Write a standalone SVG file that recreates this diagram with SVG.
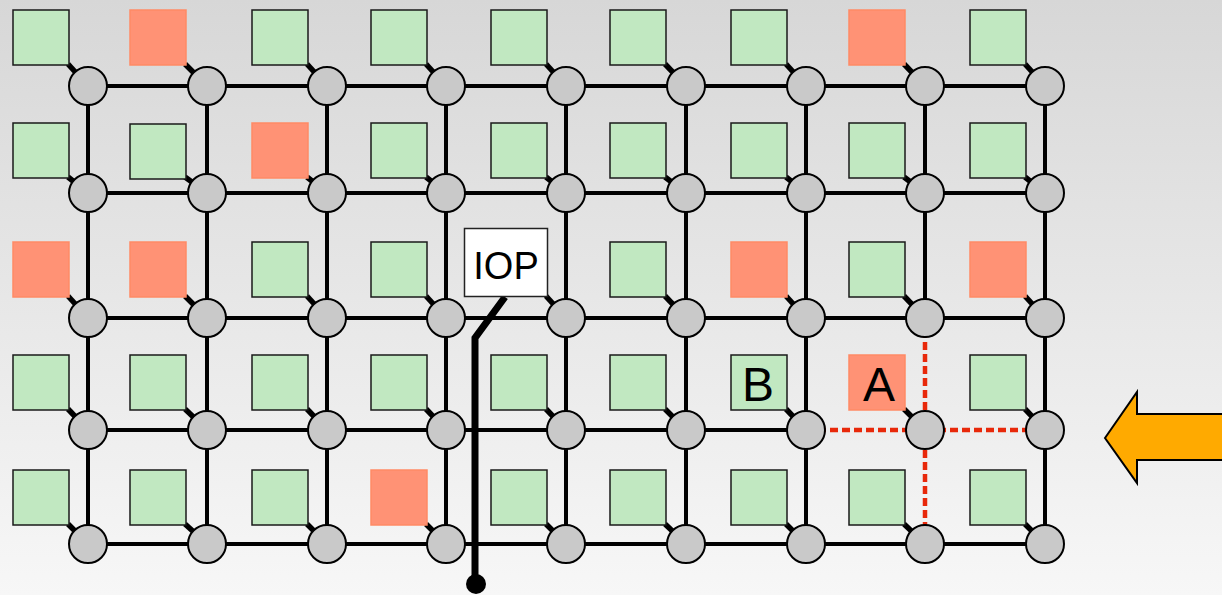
<svg xmlns="http://www.w3.org/2000/svg" width="1222" height="595" viewBox="0 0 1222 595">
<defs>
<linearGradient id="bg" x1="0" y1="0" x2="0" y2="1">
<stop offset="0" stop-color="#d7d7d7"/>
<stop offset="1" stop-color="#f7f7f7"/>
</linearGradient>
</defs>
<style>
.ln{stroke:#000;stroke-width:4;fill:none}
.rd{stroke:#e8280a;stroke-width:4.5;stroke-dasharray:8,4;fill:none}
.g{fill:#c1e8c1;stroke:#1a1a1a;stroke-width:1.5}
.r{fill:#ff9275;stroke:#ff8a66;stroke-width:1.5}
.c{fill:#c9c9c9;stroke:#000;stroke-width:2}
.s{stroke:#000;stroke-width:5.5}
.t{font-family:"Liberation Sans",Arial,sans-serif;fill:#000}
</style>
<rect width="1222" height="595" fill="url(#bg)"/>
<g id="connectors">
<path class="ln" d="M88,86H1045M88,193H1045M88,318H1045M88,544H1045M88,430H806"/>
<path class="ln" d="M88,86V544M207,86V544M327,86V544M446,86V544M566,86V544M686,86V544M806,86V544M1045,86V544M925,86V318"/>
<path class="rd" d="M806,430H1045M925,318V544"/>
<path d="M505,297L475,338V584" stroke="#000" stroke-width="7" fill="none"/>
<circle cx="476" cy="584" r="10" fill="#000"/>
</g>
<g id="n11"><line class="s" x1="68" y1="64" x2="88" y2="86"/><rect class="g" x="13" y="10" width="56" height="55"/><circle class="c" cx="88" cy="86" r="19"/></g>
<g id="n12"><line class="s" x1="185" y1="64" x2="207" y2="86"/><rect class="r" x="130" y="10" width="56" height="55"/><circle class="c" cx="207" cy="86" r="19"/></g>
<g id="n13"><line class="s" x1="307" y1="64" x2="327" y2="86"/><rect class="g" x="252" y="10" width="56" height="55"/><circle class="c" cx="327" cy="86" r="19"/></g>
<g id="n14"><line class="s" x1="426" y1="64" x2="446" y2="86"/><rect class="g" x="371" y="10" width="56" height="55"/><circle class="c" cx="446" cy="86" r="19"/></g>
<g id="n15"><line class="s" x1="546" y1="64" x2="566" y2="86"/><rect class="g" x="491" y="10" width="56" height="55"/><circle class="c" cx="566" cy="86" r="19"/></g>
<g id="n16"><line class="s" x1="665" y1="64" x2="686" y2="86"/><rect class="g" x="610" y="10" width="56" height="55"/><circle class="c" cx="686" cy="86" r="19"/></g>
<g id="n17"><line class="s" x1="786" y1="64" x2="806" y2="86"/><rect class="g" x="731" y="10" width="56" height="55"/><circle class="c" cx="806" cy="86" r="19"/></g>
<g id="n18"><line class="s" x1="904" y1="64" x2="925" y2="86"/><rect class="r" x="849" y="10" width="56" height="55"/><circle class="c" cx="925" cy="86" r="19"/></g>
<g id="n19"><line class="s" x1="1025" y1="64" x2="1045" y2="86"/><rect class="g" x="970" y="10" width="56" height="55"/><circle class="c" cx="1045" cy="86" r="19"/></g>
<g id="n21"><line class="s" x1="68" y1="177" x2="88" y2="193"/><rect class="g" x="13" y="123" width="56" height="55"/><circle class="c" cx="88" cy="193" r="19"/></g>
<g id="n22"><line class="s" x1="185" y1="177" x2="207" y2="193"/><rect class="g" x="130" y="124" width="56" height="55"/><circle class="c" cx="207" cy="193" r="19"/></g>
<g id="n23"><line class="s" x1="307" y1="177" x2="327" y2="193"/><rect class="r" x="252" y="123" width="56" height="55"/><circle class="c" cx="327" cy="193" r="19"/></g>
<g id="n24"><line class="s" x1="426" y1="177" x2="446" y2="193"/><rect class="g" x="371" y="123" width="56" height="55"/><circle class="c" cx="446" cy="193" r="19"/></g>
<g id="n25"><line class="s" x1="546" y1="177" x2="566" y2="193"/><rect class="g" x="491" y="123" width="56" height="55"/><circle class="c" cx="566" cy="193" r="19"/></g>
<g id="n26"><line class="s" x1="665" y1="177" x2="686" y2="193"/><rect class="g" x="610" y="123" width="56" height="55"/><circle class="c" cx="686" cy="193" r="19"/></g>
<g id="n27"><line class="s" x1="786" y1="177" x2="806" y2="193"/><rect class="g" x="731" y="123" width="56" height="55"/><circle class="c" cx="806" cy="193" r="19"/></g>
<g id="n28"><line class="s" x1="904" y1="177" x2="925" y2="193"/><rect class="g" x="849" y="123" width="56" height="55"/><circle class="c" cx="925" cy="193" r="19"/></g>
<g id="n29"><line class="s" x1="1025" y1="177" x2="1045" y2="193"/><rect class="g" x="970" y="123" width="56" height="55"/><circle class="c" cx="1045" cy="193" r="19"/></g>
<g id="n31"><line class="s" x1="68" y1="296" x2="88" y2="318"/><rect class="r" x="13" y="242" width="56" height="55"/><circle class="c" cx="88" cy="318" r="19"/></g>
<g id="n32"><line class="s" x1="185" y1="296" x2="207" y2="318"/><rect class="r" x="130" y="242" width="56" height="55"/><circle class="c" cx="207" cy="318" r="19"/></g>
<g id="n33"><line class="s" x1="307" y1="296" x2="327" y2="318"/><rect class="g" x="252" y="242" width="56" height="55"/><circle class="c" cx="327" cy="318" r="19"/></g>
<g id="n34"><line class="s" x1="426" y1="296" x2="446" y2="318"/><rect class="g" x="371" y="242" width="56" height="55"/><circle class="c" cx="446" cy="318" r="19"/></g>
<g id="n35"><line class="s" x1="546" y1="296" x2="566" y2="318"/><circle class="c" cx="566" cy="318" r="19"/></g>
<g id="n36"><line class="s" x1="665" y1="296" x2="686" y2="318"/><rect class="g" x="610" y="242" width="56" height="55"/><circle class="c" cx="686" cy="318" r="19"/></g>
<g id="n37"><line class="s" x1="786" y1="296" x2="806" y2="318"/><rect class="r" x="731" y="242" width="56" height="55"/><circle class="c" cx="806" cy="318" r="19"/></g>
<g id="n38"><line class="s" x1="904" y1="296" x2="925" y2="318"/><rect class="g" x="849" y="242" width="56" height="55"/><circle class="c" cx="925" cy="318" r="19"/></g>
<g id="n39"><line class="s" x1="1025" y1="296" x2="1045" y2="318"/><rect class="r" x="970" y="242" width="56" height="55"/><circle class="c" cx="1045" cy="318" r="19"/></g>
<g id="n41"><line class="s" x1="68" y1="409" x2="88" y2="430"/><rect class="g" x="13" y="355" width="56" height="55"/><circle class="c" cx="88" cy="430" r="19"/></g>
<g id="n42"><line class="s" x1="185" y1="409" x2="207" y2="430"/><rect class="g" x="130" y="355" width="56" height="55"/><circle class="c" cx="207" cy="430" r="19"/></g>
<g id="n43"><line class="s" x1="307" y1="409" x2="327" y2="430"/><rect class="g" x="252" y="355" width="56" height="55"/><circle class="c" cx="327" cy="430" r="19"/></g>
<g id="n44"><line class="s" x1="426" y1="409" x2="446" y2="430"/><rect class="g" x="371" y="355" width="56" height="55"/><circle class="c" cx="446" cy="430" r="19"/></g>
<g id="n45"><line class="s" x1="546" y1="409" x2="566" y2="430"/><rect class="g" x="491" y="355" width="56" height="55"/><circle class="c" cx="566" cy="430" r="19"/></g>
<g id="n46"><line class="s" x1="665" y1="409" x2="686" y2="430"/><rect class="g" x="610" y="355" width="56" height="55"/><circle class="c" cx="686" cy="430" r="19"/></g>
<g id="n47"><line class="s" x1="786" y1="409" x2="806" y2="430"/><rect class="g" x="731" y="355" width="56" height="55"/><text class="t" x="758" y="401" font-size="48" text-anchor="middle">B</text><circle class="c" cx="806" cy="430" r="19"/></g>
<g id="n48"><line class="s" x1="904" y1="409" x2="925" y2="430"/><rect class="r" x="849" y="355" width="56" height="55"/><text class="t" x="879" y="401" font-size="48" text-anchor="middle">A</text><circle class="c" cx="925" cy="430" r="19"/></g>
<g id="n49"><line class="s" x1="1025" y1="409" x2="1045" y2="430"/><rect class="g" x="970" y="355" width="56" height="55"/><circle class="c" cx="1045" cy="430" r="19"/></g>
<g id="n51"><line class="s" x1="68" y1="524" x2="88" y2="544"/><rect class="g" x="13" y="470" width="56" height="55"/><circle class="c" cx="88" cy="544" r="19"/></g>
<g id="n52"><line class="s" x1="185" y1="524" x2="207" y2="544"/><rect class="g" x="130" y="470" width="56" height="55"/><circle class="c" cx="207" cy="544" r="19"/></g>
<g id="n53"><line class="s" x1="307" y1="524" x2="327" y2="544"/><rect class="g" x="252" y="470" width="56" height="55"/><circle class="c" cx="327" cy="544" r="19"/></g>
<g id="n54"><line class="s" x1="426" y1="524" x2="446" y2="544"/><rect class="r" x="371" y="470" width="56" height="55"/><circle class="c" cx="446" cy="544" r="19"/></g>
<g id="n55"><line class="s" x1="546" y1="524" x2="566" y2="544"/><rect class="g" x="491" y="470" width="56" height="55"/><circle class="c" cx="566" cy="544" r="19"/></g>
<g id="n56"><line class="s" x1="665" y1="524" x2="686" y2="544"/><rect class="g" x="610" y="470" width="56" height="55"/><circle class="c" cx="686" cy="544" r="19"/></g>
<g id="n57"><line class="s" x1="786" y1="524" x2="806" y2="544"/><rect class="g" x="731" y="470" width="56" height="55"/><circle class="c" cx="806" cy="544" r="19"/></g>
<g id="n58"><line class="s" x1="904" y1="524" x2="925" y2="544"/><rect class="g" x="849" y="470" width="56" height="55"/><circle class="c" cx="925" cy="544" r="19"/></g>
<g id="n59"><line class="s" x1="1025" y1="524" x2="1045" y2="544"/><rect class="g" x="970" y="470" width="56" height="55"/><circle class="c" cx="1045" cy="544" r="19"/></g>
<g id="iop"><rect x="464.5" y="228.5" width="83" height="68" fill="#fff" stroke="#222" stroke-width="1.5"/><text class="t" x="506" y="279" font-size="38" text-anchor="middle">IOP</text></g>
<g id="arrow"><path d="M1105,438L1137,392V414H1230V460H1137V483Z" fill="#ffaa00" stroke="#000" stroke-width="2" stroke-linejoin="miter"/></g>
</svg>
